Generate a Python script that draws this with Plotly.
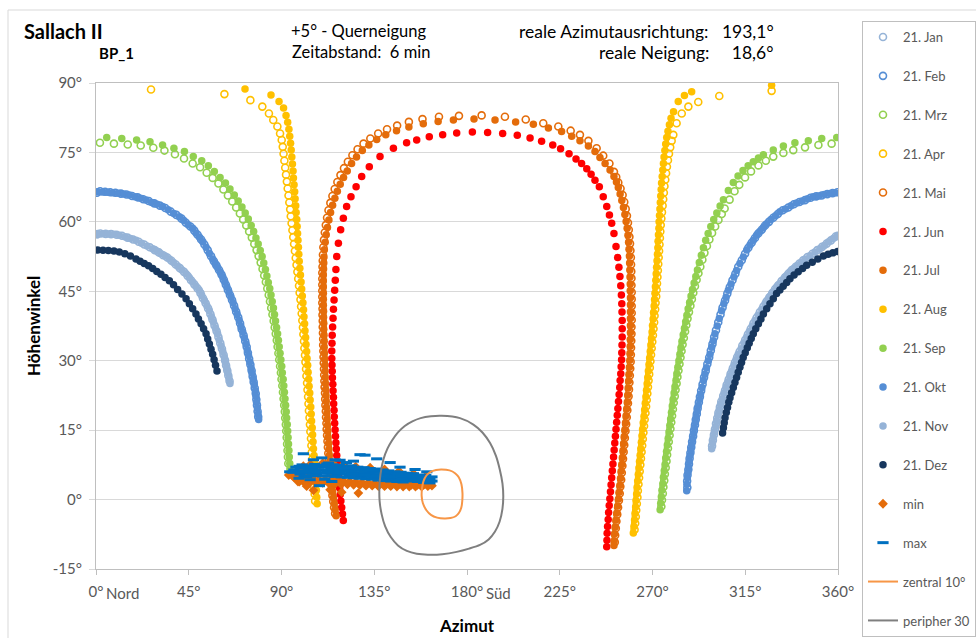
import plotly.graph_objects as go

# ---------------- data (azimuth °, altitude °) ----------------
jan_left = [(0.5,57.3),(2.1,57.5),(4.7,57.4),(7.3,57.35),(10.0,57.2),(12.6,57.0),(15.3,56.6),(18.0,56.2),(20.7,55.7),(23.4,55.1),(26.1,54.5),(28.5,53.9),(30.5,53.4),(32.6,52.8),(34.6,52.3),(36.6,51.6),(38.7,50.8),(40.7,50.0),(42.7,49.2),(44.5,48.3),(46.1,47.4),(47.7,46.5),(49.3,45.6),(50.7,44.6),(51.9,43.5),(53.2,42.4),(54.4,41.3),(55.5,40.1),(56.5,38.9),(57.5,37.6),(58.5,36.4),(59.4,35.1),(60.3,33.8),(61.1,32.6),(61.9,31.3),(62.6,30.1),(63.1,29.0),(63.7,27.9),(64.2,26.8),(64.8,25.6)]
jan_right = [(298.9,11.6),(299.3,12.8),(299.8,14.0),(300.3,15.2),(300.8,16.4),(301.4,17.6),(302.0,18.8),(302.7,20.0),(303.4,21.2),(304.3,22.4),(305.2,23.6),(306.0,24.8),(307.0,26.0),(307.9,27.2),(309.0,28.4),(310.0,29.6),(311.1,30.8),(312.3,32.0),(313.6,33.3),(315.0,34.5),(316.3,35.7),(317.7,36.9),(319.0,38.1),(320.5,39.3),(322.1,40.5),(323.8,41.7),(325.3,42.8),(326.7,43.7),(328.1,44.6),(329.5,45.5),(331.0,46.3),(332.6,47.2),(334.3,48.0),(335.9,48.8),(337.6,49.6),(339.5,50.3),(341.3,51.0),(343.1,51.7),(345.2,52.4),(347.6,53.1),(350.0,53.9),(352.3,54.6),(354.5,55.3),(356.6,56.0),(358.8,56.8)]

feb_left = [(0.5,66.3),(2.0,66.6),(4.4,66.5),(6.9,66.4),(9.4,66.3),(12.1,66.1),(14.8,65.9),(17.5,65.6),(20.2,65.3),(22.9,64.9),(25.6,64.5),(28.3,64.0),(31.0,63.5),(33.6,63.0),(36.3,62.2),(39.0,61.5),(41.5,60.7),(43.6,59.8),(45.8,59.0),(47.7,58.1),(49.3,57.2),(51.0,56.2),(52.6,55.1),(54.2,53.9),(55.8,52.6),(57.2,51.5),(58.4,50.6),(59.7,49.6),(60.9,48.6),(62.0,47.5),(63.0,46.4),(64.0,45.3),(65.0,44.2),(66.0,43.1),(67.0,41.9),(68.0,40.6),(69.0,39.4),(69.9,38.1),(70.7,36.8),(71.6,35.5),(72.4,34.2),(73.1,33.0),(73.7,31.7),(74.3,30.4),(74.9,29.2),(75.5,27.9),(76.0,26.6),(76.5,25.4),(77.0,24.1),(77.5,22.9),(77.8,21.6),(78.1,20.4),(78.4,19.1),(78.7,17.9)]
feb_right = [(286.9,2.6),(286.8,4.0),(287.0,5.3),(287.4,6.5),(287.7,7.7),(288.0,8.9),(288.4,10.1),(288.8,11.3),(289.2,12.5),(289.7,13.7),(290.1,14.9),(290.6,16.1),(291.0,17.3),(291.5,18.5),(291.9,19.7),(292.5,21.0),(293.0,22.2),(293.6,23.5),(294.3,24.9),(295.0,26.4),(295.8,27.8),(296.6,29.3),(297.5,30.7),(298.3,32.2),(299.1,33.6),(299.9,35.1),(300.8,36.6),(301.9,38.3),(303.0,40.0),(304.0,41.5),(305.2,43.0),(306.3,44.5),(307.5,45.9),(308.8,47.4),(310.2,48.8),(311.6,50.3),(313.3,51.7),(314.9,53.1),(316.5,54.4),(318.1,55.5),(319.7,56.5),(321.3,57.5),(323.0,58.3),(324.6,59.2),(326.5,60.0),(328.6,60.9),(330.8,61.7),(333.2,62.5),(335.9,63.1),(338.6,63.8),(341.3,64.3),(344.0,64.7),(346.7,65.2),(349.4,65.5),(352.1,65.7),(354.8,66.0),(357.4,66.2),(359.7,66.4)]

mrz_left = [(1.9,77.1),(8.7,76.9),(15.4,76.7),(21.7,76.5),(27.8,76.0),(33.2,75.4),(38.3,74.6),(42.7,73.7),(46.9,72.6),(50.5,71.8),(53.7,70.6),(56.6,69.5),(59.4,68.3),(61.8,67.0),(64.0,65.7),(66.1,64.4),(68.0,63.1),(69.8,61.8),(71.4,60.5),(72.9,59.2),(74.3,57.9),(75.6,56.6),(76.8,55.2),(77.9,53.9),(78.9,52.6),(79.9,51.2),(80.8,49.8),(81.6,48.4),(82.4,47.0),(83.1,45.6),(83.8,44.2),(84.4,42.8),(85.0,41.4),(85.6,40.0),(86.2,38.6),(86.7,37.2),(87.2,35.8),(87.7,34.4),(88.1,33.0),(88.5,31.6),(88.9,30.2),(89.3,28.8),(89.7,27.4),(90.0,26.0),(90.4,24.6),(90.7,23.2),(91.0,21.8),(91.3,20.4),(91.6,19.0),(91.8,17.6),(92.1,16.2),(92.3,14.8),(92.5,13.4),(92.7,12.0),(92.9,10.6),(93.1,9.2),(93.3,7.8)]
mrz_right = [(274.3,-1.5),(274.6,-0.1),(275.0,1.3),(275.3,2.7),(275.7,4.1),(276.0,5.5),(276.4,6.9),(276.8,8.3),(277.1,9.7),(277.5,11.1),(277.9,12.5),(278.3,13.9),(278.7,15.3),(279.1,16.7),(279.5,18.1),(279.9,19.5),(280.3,20.9),(280.8,22.3),(281.2,23.7),(281.7,25.1),(282.1,26.5),(282.6,27.9),(283.1,29.3),(283.6,30.7),(284.1,32.1),(284.6,33.5),(285.2,34.9),(285.8,36.3),(286.4,37.7),(287.0,39.1),(287.7,40.5),(288.4,41.9),(289.1,43.3),(289.8,44.7),(290.6,46.1),(291.4,47.5),(292.3,48.9),(293.2,50.3),(294.2,51.8),(295.2,53.3),(296.4,54.8),(297.6,56.2),(298.9,57.6),(300.4,59.0),(302.0,60.4),(303.6,61.7),(305.0,62.9),(307.4,64.8),(309.8,66.6),(312.1,68.0),(314.9,69.6),(317.8,70.9),(321.4,72.2),(325.0,73.2),(328.6,74.1),(333.5,74.9),(338.3,75.5),(344.0,76.1),(350.5,76.6),(356.9,76.9)]

apr_left = [(26.7,88.6),(62.3,87.6),(74.9,86.3),(80.7,84.9),(83.9,83.4),(86.0,82.0),(88.0,80.6),(89.3,79.1),(90.1,77.7),(90.6,76.2),(91.0,74.7),(91.4,73.2),(91.8,71.7),(92.2,70.2),(92.6,68.7),(93.0,67.2),(93.4,65.7),(93.8,64.2),(94.2,62.7),(94.5,61.2),(94.9,59.7),(95.3,58.2),(95.7,56.7),(96.1,55.2),(96.5,53.7),(96.9,52.2),(97.3,50.7),(97.7,49.2),(98.1,47.7),(98.5,46.2),(98.8,44.7),(99.2,43.2),(99.5,41.7),(99.8,40.2),(100.1,38.7),(100.4,37.2),(100.6,35.7),(100.9,34.2),(101.1,32.7),(101.4,31.2),(101.6,29.7),(101.9,28.2),(102.1,26.7),(102.4,25.2),(102.6,23.7),(102.9,22.2),(103.1,20.7),(103.3,19.2),(103.6,17.7),(103.8,16.2),(104.0,14.7),(104.3,13.2),(104.5,11.7),(104.7,10.2),(104.9,8.7),(105.2,7.2),(105.4,5.7),(105.6,4.2),(105.8,2.7),(106.1,1.2),(106.3,-0.3)]
apr_right = [(261.3,-6.5),(261.6,-5.1),(261.9,-3.7),(262.1,-2.3),(262.4,-0.9),(262.7,0.5),(262.9,1.9),(263.2,3.3),(263.5,4.7),(263.8,6.1),(264.1,7.5),(264.4,8.9),(264.7,10.3),(265.0,11.7),(265.3,13.1),(265.6,14.5),(265.9,15.9),(266.2,17.3),(266.6,18.7),(266.9,20.1),(267.2,21.5),(267.5,22.9),(267.8,24.3),(268.1,25.7),(268.4,27.1),(268.7,28.5),(269.0,29.9),(269.3,31.3),(269.6,32.7),(269.9,34.1),(270.2,35.5),(270.5,36.9),(270.8,38.3),(271.0,39.7),(271.3,41.1),(271.5,42.5),(271.8,43.9),(272.0,45.3),(272.2,46.7),(272.4,48.1),(272.6,49.5),(272.8,50.9),(273.0,52.3),(273.2,53.7),(273.4,55.1),(273.6,56.5),(273.8,57.9),(274.0,59.3),(274.3,60.7),(274.6,62.1),(274.9,63.5),(275.2,64.9),(275.5,66.3),(275.8,67.7),(276.2,69.1),(276.6,70.5),(277.0,71.9),(277.5,73.3),(278.0,74.7),(278.6,76.1),(279.3,77.5),(280.1,78.8),(281.7,81.3),(284.2,83.4),(287.4,84.9),(292.2,85.9),(302.4,87.2),(327.8,88.3)]

mai = [(116.0,-3.0),(115.5,-1.7),(115.1,-0.4),(114.7,0.9),(114.3,2.2),(114.0,3.5),(113.7,4.8),(113.4,6.1),(113.2,7.4),(112.9,8.7),(112.7,10.0),(112.5,11.3),(112.3,12.6),(112.1,13.9),(111.9,15.2),(111.8,16.5),(111.6,17.8),(111.5,19.1),(111.3,20.4),(111.2,21.7),(111.1,23.0),(110.9,24.3),(110.8,25.6),(110.7,26.9),(110.6,28.2),(110.5,29.5),(110.4,30.8),(110.3,32.1),(110.2,33.4),(110.2,34.7),(110.1,36.0),(110.0,37.3),(110.0,38.6),(109.9,39.9),(109.9,41.2),(109.8,42.5),(109.8,43.8),(109.8,45.1),(109.8,46.4),(109.8,47.7),(109.8,49.0),(109.9,50.3),(110.0,51.6),(110.1,52.9),(110.3,54.5),(110.6,56.1),(111.0,57.7),(111.5,59.3),(112.1,60.9),(112.8,62.5),(113.7,64.1),(114.7,65.6),(115.8,67.1),(117.1,68.6),(118.6,70.1),(120.3,71.6),(122.2,73.0),(124.4,74.4),(126.9,75.7),(129.8,76.9),(133.1,78.0),(136.9,79.1),(141.2,80.0),(146.1,80.8),(151.8,81.6),(158.4,82.2),(166.4,82.7),(176.1,82.9),(187.1,83.0),(198.4,82.7),(208.5,82.1),(217.0,81.3),(224.3,80.6),(230.3,79.7),(234.8,78.8),(238.9,77.5),(242.9,75.9),(246.1,74.3),(249.1,72.6),(251.3,70.8),(252.4,69.7),(253.4,68.5),(254.5,67.2),(255.5,65.8),(256.3,64.3),(257.0,62.8),(257.6,61.3),(258.1,59.8),(258.5,58.3),(258.8,56.8),(259.1,55.3),(259.3,53.8),(259.5,52.3),(259.6,50.8),(259.7,49.3),(259.8,47.8),(259.8,46.3),(259.9,44.8),(259.9,43.3),(259.9,41.8),(259.9,40.3),(259.9,38.8),(259.8,37.3),(259.8,35.8),(259.7,34.3),(259.6,32.8),(259.5,31.3),(259.4,29.8),(259.2,28.3),(259.0,26.8),(258.8,25.3),(258.6,23.8),(258.4,22.3),(258.1,20.8),(257.8,19.3),(257.5,17.8),(257.2,16.3),(256.9,14.8),(256.6,13.3),(256.3,11.8),(256.0,10.3),(255.7,8.8),(255.4,7.3),(255.1,5.8),(254.8,4.3),(254.4,2.8),(254.1,1.3),(253.7,-0.2),(253.3,-1.7),(252.9,-3.2),(252.5,-4.7),(252.2,-6.2),(251.9,-7.7),(251.7,-9.2)]

jun = [(120.0,-4.5),(119.6,-3.1),(119.2,-1.7),(118.8,-0.3),(118.5,1.1),(118.2,2.5),(117.9,3.9),(117.6,5.3),(117.3,6.7),(117.1,8.1),(116.8,9.5),(116.6,10.9),(116.4,12.3),(116.2,13.7),(116.0,15.1),(115.8,16.5),(115.6,17.9),(115.5,19.3),(115.3,20.7),(115.2,22.1),(115.0,23.5),(114.9,24.9),(114.7,26.3),(114.6,27.7),(114.5,29.1),(114.4,30.5),(114.4,32.1),(114.5,33.8),(114.6,35.5),(114.8,37.3),(115.0,39.2),(115.2,41.1),(115.5,43.1),(115.8,45.2),(116.1,47.4),(116.4,49.7),(116.8,52.5),(117.6,55.4),(118.7,58.3),(120.0,60.8),(121.6,63.3),(123.7,65.4),(126.2,67.6),(128.9,69.8),(132.6,71.9),(137.8,74.1),(144.3,75.9),(150.7,77.1),(155.6,77.7),(161.7,78.4),(168.2,78.8),(175.0,79.2),(182.6,79.4),(190.0,79.3),(197.3,79.1),(204.4,78.7),(210.6,78.1),(216.2,77.4),(221.6,76.6),(225.4,75.8),(229.5,74.7),(232.9,73.6),(235.6,72.6),(238.1,71.5),(240.2,70.3),(242.1,69.0),(244.2,67.6),(246.1,65.4),(247.8,63.3),(249.1,61.5),(250.2,59.7),(251.3,57.5),(252.3,54.7),(253.1,52.3),(253.7,50.2),(254.2,48.2),(254.6,46.2),(254.9,44.2),(255.1,42.3),(255.2,40.5),(255.3,38.7),(255.3,36.9),(255.3,35.1),(255.2,33.4),(255.1,31.7),(255.0,30.2),(254.8,28.7),(254.6,27.2),(254.3,25.7),(254.1,24.2),(253.8,22.7),(253.5,21.2),(253.2,19.7),(252.9,18.2),(252.6,16.7),(252.3,15.2),(252.0,13.7),(251.7,12.2),(251.4,10.7),(251.1,9.2),(250.8,7.7),(250.5,6.2),(250.2,4.7),(249.9,3.2),(249.6,1.7),(249.3,0.2),(249.0,-1.3),(248.7,-2.8),(248.5,-4.3),(248.2,-5.8),(248.0,-7.3),(247.9,-8.8),(247.8,-10.2)]

jul = [(116.5,-3.5),(116.0,-2.2),(115.6,-0.9),(115.2,0.4),(114.8,1.7),(114.5,3.0),(114.2,4.3),(113.9,5.6),(113.7,6.9),(113.4,8.2),(113.2,9.5),(113.0,10.8),(112.8,12.1),(112.6,13.4),(112.4,14.7),(112.3,16.0),(112.1,17.3),(112.0,18.6),(111.8,19.9),(111.7,21.2),(111.6,22.5),(111.4,23.8),(111.3,25.1),(111.2,26.4),(111.1,27.7),(111.0,29.0),(110.9,30.3),(110.8,31.6),(110.7,32.9),(110.7,34.2),(110.6,35.5),(110.5,36.8),(110.5,38.1),(110.4,39.4),(110.4,40.7),(110.3,42.0),(110.3,43.3),(110.3,44.6),(110.3,45.9),(110.3,47.2),(110.3,48.5),(110.4,49.8),(110.5,51.1),(110.6,52.4),(110.8,54.0),(111.2,55.6),(111.7,57.2),(112.3,58.8),(113.0,60.4),(113.8,62.0),(114.8,63.6),(115.9,65.1),(117.1,66.6),(118.5,68.1),(120.1,69.6),(121.9,71.0),(124.0,72.6),(126.4,74.0),(129.2,75.4),(132.4,76.6),(136.2,77.8),(140.6,78.8),(145.8,79.7),(151.8,80.5),(158.8,81.2),(166.0,81.7),(173.4,82.0),(183.4,82.2),(193.6,82.0),(203.6,81.6),(212.2,81.1),(219.5,80.3),(225.9,79.5),(230.8,78.5),(234.8,77.5),(238.9,76.4),(242.1,75.2),(244.5,73.9),(247.0,72.6),(249.4,71.2),(251.3,69.8),(252.5,68.6),(253.4,67.4),(254.3,66.0),(255.1,64.6),(255.9,63.1),(256.6,61.6),(257.2,60.1),(257.7,58.6),(258.1,57.1),(258.4,55.6),(258.6,54.1),(258.8,52.6),(258.9,51.1),(259.0,49.6),(259.1,48.1),(259.2,46.6),(259.2,45.1),(259.3,43.6),(259.3,42.1),(259.3,40.6),(259.3,39.1),(259.3,37.6),(259.3,36.1),(259.2,34.6),(259.2,33.1),(259.1,31.6),(259.0,30.1),(258.8,28.6),(258.6,27.1),(258.4,25.6),(258.2,24.1),(258.0,22.6),(257.8,21.1),(257.5,19.6),(257.2,18.1),(256.9,16.6),(256.6,15.1),(256.3,13.6),(256.0,12.1),(255.7,10.6),(255.4,9.1),(255.1,7.6),(254.8,6.1),(254.5,4.6),(254.2,3.1),(253.8,1.6),(253.5,0.1),(253.1,-1.4),(252.7,-2.9),(252.3,-4.4),(251.9,-5.9),(251.6,-7.4),(251.4,-8.9),(251.3,-9.9)]

aug_left = [(72.3,88.7),(84.9,87.4),(88.8,86.0),(91.0,84.6),(92.2,83.0),(93.0,81.5),(93.6,80.0),(94.0,78.5),(94.4,77.0),(94.7,75.5),(95.0,74.0),(95.3,72.5),(95.6,71.0),(95.8,69.5),(96.1,68.0),(96.4,66.5),(96.6,65.0),(96.9,63.5),(97.1,62.0),(97.4,60.5),(97.6,59.0),(97.8,57.5),(98.0,56.0),(98.2,54.5),(98.4,53.0),(98.6,51.5),(98.9,50.0),(99.2,48.5),(99.5,47.0),(99.8,45.5),(100.1,44.0),(100.4,42.5),(100.7,41.0),(100.9,39.5),(101.2,38.0),(101.4,36.5),(101.7,35.0),(101.9,33.5),(102.2,32.0),(102.4,30.5),(102.7,29.0),(102.9,27.5),(103.2,26.0),(103.4,24.5),(103.7,23.0),(103.9,21.5),(104.2,20.0),(104.4,18.5),(104.6,17.0),(104.9,15.5),(105.1,14.0),(105.3,12.5),(105.5,11.0),(105.8,9.5),(106.0,8.0),(106.2,6.5),(106.4,5.0),(106.7,3.5),(106.9,2.0),(107.1,0.5),(107.3,-0.9)]
aug_right = [(260.7,-7.2),(261.0,-5.8),(261.3,-4.4),(261.5,-3.0),(261.8,-1.6),(262.0,-0.2),(262.3,1.2),(262.5,2.6),(262.8,4.0),(263.1,5.4),(263.4,6.8),(263.7,8.2),(264.0,9.6),(264.3,11.0),(264.6,12.4),(264.9,13.8),(265.2,15.2),(265.5,16.6),(265.9,18.0),(266.2,19.4),(266.5,20.8),(266.8,22.2),(267.1,23.6),(267.4,25.0),(267.7,26.4),(268.0,27.8),(268.3,29.2),(268.6,30.6),(268.9,32.0),(269.2,33.4),(269.5,34.8),(269.8,36.2),(270.0,37.6),(270.3,39.0),(270.5,40.4),(270.8,41.8),(271.0,43.2),(271.2,44.6),(271.4,46.0),(271.6,47.4),(271.8,48.8),(272.0,50.2),(272.2,51.6),(272.4,53.0),(272.6,54.4),(272.7,55.8),(272.9,57.2),(273.1,58.6),(273.2,60.0),(273.4,61.4),(273.6,62.8),(273.8,64.2),(274.0,65.6),(274.2,67.0),(274.4,68.4),(274.7,69.8),(275.0,71.2),(275.3,72.6),(275.6,74.0),(276.0,75.4),(276.4,76.8),(276.9,78.2),(277.5,79.6),(278.2,81.0),(279.0,82.4),(280.2,83.8),(282.5,86.0),(285.5,87.3),(289.0,88.1),(327.8,89.5)]

sep_left = [(5.2,78.2),(12.5,78.0),(19.7,77.7),(26.2,77.3),(32.3,76.6),(37.8,75.9),(42.9,75.2),(47.2,74.1),(51.3,73.2),(54.5,72.1),(57.4,70.9),(60.2,69.6),(62.8,68.4),(65.0,67.1),(67.1,65.8),(69.0,64.5),(70.8,63.2),(72.4,61.9),(73.9,60.6),(75.3,59.2),(76.5,57.9),(77.6,56.5),(78.7,55.2),(79.7,53.8),(80.6,52.5),(81.4,51.1),(82.2,49.7),(82.9,48.3),(83.6,46.9),(84.3,45.6),(84.9,44.2),(85.5,42.8),(86.1,41.4),(86.6,40.0),(87.1,38.6),(87.6,37.2),(88.1,35.8),(88.5,34.4),(88.9,33.0),(89.3,31.6),(89.7,30.2),(90.1,28.8),(90.4,27.4),(90.8,26.0),(91.1,24.6),(91.4,23.2),(91.7,21.8),(92.0,20.4),(92.3,19.0),(92.5,17.6),(92.8,16.2),(93.0,14.8),(93.2,13.4),(93.4,12.0),(93.6,10.6),(93.8,9.2),(94.0,7.8),(94.1,6.6)]
sep_right = [(273.7,-2.2),(274.0,-0.8),(274.3,0.6),(274.6,2.0),(275.0,3.4),(275.3,4.8),(275.7,6.2),(276.1,7.6),(276.4,9.0),(276.8,10.4),(277.2,11.8),(277.6,13.2),(278.0,14.6),(278.4,16.0),(278.8,17.4),(279.2,18.8),(279.6,20.2),(280.0,21.6),(280.5,23.0),(280.9,24.4),(281.4,25.8),(281.8,27.2),(282.3,28.6),(282.8,30.0),(283.3,31.4),(283.8,32.8),(284.3,34.2),(284.9,35.6),(285.5,37.0),(286.1,38.4),(286.7,39.8),(287.3,41.2),(288.0,42.6),(288.7,44.0),(289.4,45.4),(290.2,46.8),(291.0,48.2),(291.8,49.6),(292.7,51.2),(293.7,52.8),(294.7,54.4),(295.8,56.0),(297.0,57.5),(298.3,59.0),(299.7,60.5),(301.2,61.9),(302.8,63.4),(304.4,64.8),(306.8,66.8),(309.2,68.5),(311.5,69.9),(313.9,71.1),(316.4,72.1),(318.9,73.0),(321.4,73.8),(323.8,74.5),(328.6,75.5),(333.5,76.4),(339.1,77.1),(345.6,77.5),(352.1,78.0),(359.4,78.2)]

okt_left = [(0.8,66.5),(3.2,66.45),(5.7,66.4),(8.1,66.3),(10.8,66.2),(13.5,66.0),(16.2,65.8),(18.9,65.4),(21.6,65.1),(24.3,64.7),(27.0,64.2),(29.6,63.8),(32.3,63.3),(35.0,62.6),(37.7,61.8),(40.4,61.1),(42.6,60.3),(44.7,59.4),(46.9,58.6),(48.5,57.6),(50.2,56.7),(51.8,55.7),(53.4,54.5),(55.0,53.2),(56.6,52.0),(57.8,51.0),(59.1,50.1),(60.3,49.1),(61.5,48.1),(62.5,47.0),(63.5,45.9),(64.5,44.8),(65.5,43.7),(66.5,42.5),(67.5,41.2),(68.5,40.0),(69.5,38.7),(70.3,37.4),(71.2,36.2),(72.0,34.9),(72.8,33.6),(73.4,32.3),(74.0,31.1),(74.6,29.8),(75.2,28.5),(75.7,27.3),(76.3,26.0),(76.8,24.8),(77.3,23.5),(77.6,22.3),(77.9,21.0),(78.3,19.8),(78.6,18.5),(78.9,17.3)]
okt_right = [(286.6,1.9),(286.7,3.3),(286.9,4.7),(287.2,5.9),(287.5,7.1),(287.8,8.3),(288.2,9.5),(288.6,10.7),(289.0,11.9),(289.4,13.1),(289.9,14.3),(290.3,15.5),(290.8,16.7),(291.2,17.9),(291.7,19.1),(292.2,20.3),(292.8,21.6),(293.3,22.8),(294.0,24.2),(294.7,25.7),(295.4,27.1),(296.2,28.5),(297.1,30.0),(297.9,31.4),(298.7,32.9),(299.5,34.3),(300.3,35.8),(301.4,37.5),(302.4,39.1),(303.5,40.8),(304.6,42.3),(305.7,43.7),(306.8,45.2),(308.1,46.6),(309.5,48.1),(310.8,49.5),(312.4,51.0),(314.1,52.4),(315.7,53.9),(317.3,55.0),(318.9,56.0),(320.5,57.1),(322.1,57.9),(323.8,58.8),(325.4,59.6),(327.5,60.5),(329.7,61.3),(331.8,62.2),(334.5,62.8),(337.2,63.5),(339.9,64.1),(342.6,64.5),(345.3,65.0),(348.0,65.4),(350.7,65.6),(353.4,65.9),(356.1,66.1),(358.6,66.3)]

nov_left = [(0.8,57.5),(3.4,57.45),(6.0,57.4),(8.7,57.3),(11.3,57.1),(14.0,56.8),(16.7,56.4),(19.4,56.0),(22.1,55.4),(24.8,54.8),(27.5,54.2),(29.5,53.7),(31.5,53.1),(33.6,52.6),(35.6,52.0),(37.6,51.2),(39.7,50.4),(41.7,49.6),(43.7,48.8),(45.3,47.9),(46.9,47.0),(48.5,46.1),(50.1,45.2),(51.3,44.1),(52.6,43.0),(53.8,41.9),(55.0,40.8),(56.0,39.5),(57.0,38.3),(58.0,37.0),(59.0,35.8),(59.8,34.5),(60.7,33.2),(61.5,32.0),(62.3,30.7),(62.8,29.6),(63.4,28.5),(63.9,27.4),(64.5,26.2),(65.0,25.1)]
nov_right = [(298.7,11.0),(299.1,12.2),(299.5,13.4),(300.0,14.6),(300.6,15.8),(301.1,17.0),(301.7,18.2),(302.4,19.4),(303.0,20.6),(303.9,21.8),(304.7,23.0),(305.6,24.2),(306.5,25.4),(307.5,26.6),(308.4,27.8),(309.5,29.0),(310.5,30.2),(311.6,31.4),(313.0,32.6),(314.3,33.9),(315.7,35.1),(317.0,36.3),(318.4,37.5),(319.7,38.7),(321.3,39.9),(323.0,41.1),(324.6,42.3),(326.0,43.2),(327.4,44.1),(328.8,45.0),(330.2,45.9),(331.8,46.7),(333.5,47.6),(335.1,48.4),(336.7,49.2),(338.5,49.9),(340.4,50.6),(342.2,51.3),(344.0,52.0),(346.4,52.7),(348.8,53.5),(351.2,54.2),(353.4,54.9),(355.5,55.7),(357.7,56.4),(359.8,57.1)]

dez_left = [(0.8,53.9),(3.4,53.85),(6.0,53.8),(8.7,53.7),(11.3,53.5),(14.0,53.1),(16.7,52.6),(19.4,52.0),(21.4,51.5),(23.4,51.0),(25.5,50.5),(27.5,49.9),(29.5,49.3),(31.5,48.7),(33.5,48.0),(35.6,47.3),(37.6,46.4),(39.6,45.4),(41.7,44.4),(43.7,43.4),(45.3,42.3),(46.9,41.2),(48.5,40.1),(49.7,39.0),(51.0,38.0),(52.2,36.9),(53.4,35.8),(54.2,34.7),(55.0,33.6),(55.8,32.5),(56.6,31.4),(57.3,30.2),(58.0,29.0),(58.7,27.8)]
dez_right = [(304.0,14.4),(304.4,15.5),(304.8,16.6),(305.2,17.7),(305.8,18.8),(306.4,19.9),(307.0,21.0),(307.6,22.0),(308.4,23.1),(309.2,24.2),(310.0,25.3),(310.8,26.4),(311.6,27.5),(312.4,28.6),(313.2,29.6),(314.0,30.7),(315.0,31.7),(316.0,32.8),(316.9,33.8),(317.9,34.8),(318.9,35.8),(320.1,36.9),(321.4,38.0),(322.6,39.0),(323.8,40.1),(325.4,41.2),(327.0,42.3),(328.6,43.4),(330.2,44.5),(331.8,45.3),(333.4,46.1),(335.1,46.9),(336.7,47.7),(338.7,48.5),(340.7,49.2),(342.8,49.9),(344.8,50.6),(347.5,51.3),(350.2,52.0),(352.9,52.6),(355.2,53.0),(357.5,53.3),(359.8,53.6)]

min_pts = [(96,4.9),(99,4.6),(102,4.5),(105,4.6),(108,4.4),(111,4.3),(114,4.2),(117,4.1),(120,4.0),(123,3.9),(126,3.8),(129,3.7),(132,3.6),(135,3.5),(138,3.5),(141,3.4),(144,3.4),(147,3.3),(150,3.3),(153,3.2),(156,3.2),(159,3.2),(162,3.3),
           (98,3.9),(101,3.7),(104,3.8),(107,3.6),(110,3.6),(113,3.5),(116,3.4),(119,3.3),(122,3.3),(125,3.2),(128,3.1),(131,3.0),(134,3.0),(137,2.9),(140,2.9),(143,2.9),(146,2.8),(149,2.8),(152,2.8),(155,2.8),(158,2.8),(161,2.9),(163,3.0),
           (100,6.5),(104,7.6),(110,7.9),(115,7.8),(120,7.5),(126,7.1),(133,6.9),(140,6.5),(147,6.1),(154,5.6),(160,5.0),(107,6.6),(118,6.5),(130,6.0),(145,5.2),
           (95.8,4.9),(98.7,3.9),(102.2,2.9),(105.5,2.0),(113.6,2.1),(119.2,1.6),(127.3,1.4),(100.6,7.2),(103.9,5.4),(119.2,3.9),(93.5,5.3),(97.0,5.6)]

max_pts = [(97,7.0),(100,7.5),(103,7.3),(106,7.6),(109,7.4),(112,7.7),(115,7.5),(118,7.4),(121,7.2),(124,7.3),(127,7.0),(130,6.9),(133,6.7),(136,6.6),(139,6.4),(142,6.2),(145,6.0),(148,5.9),(151,5.7),(154,5.6),(157,5.3),(160,5.2),(163,4.9),
           (96,6.4),(99,6.8),(102,6.9),(105,6.9),(108,7.0),(111,7.0),(114,6.9),(117,6.8),(120,6.7),(123,6.6),(126,6.4),(129,6.3),(132,6.2),(135,6.0),(138,5.9),(141,5.7),(144,5.5),(147,5.4),(150,5.2),(153,5.0),(156,4.8),(159,4.7),(162,4.5),
           (97,6.0),(100,6.2),(103,6.3),(106,6.3),(109,6.4),(112,6.3),(115,6.3),(118,6.2),(121,6.1),(124,6.0),(127,5.8),(130,5.7),(133,5.6),(136,5.4),(139,5.3),(142,5.1),(145,5.0),(148,4.8),(151,4.7),(154,4.5),(157,4.3),(160,4.2),(163,4.0),
           (99,5.5),(102,5.7),(105,5.7),(108,5.8),(111,5.7),(114,5.7),(117,5.6),(120,5.5),(123,5.4),(126,5.2),(129,5.1),(132,5.0),(135,4.9),(138,4.7),(141,4.6),(144,4.4),(147,4.3),(150,4.2),(153,4.0),(156,3.9),(159,3.7),(162,3.6),
           (101,5.0),(104,5.1),(107,5.2),(110,5.1),(113,5.1),(116,5.0),(119,4.9),(122,4.8),(125,4.7),(128,4.6),(131,4.5),(134,4.4),(137,4.2),(140,4.1),(143,4.0),(146,3.9),(149,3.8),
           (98.5,7.2),(104.5,7.1),(110.5,7.3),(116.5,7.2),(122.5,6.9),(128.5,6.6),(134.5,6.3),(140.5,5.9),(146.5,5.6),(152.5,5.3),(158.5,5.0),
           (100.5,5.9),(106.5,6.0),(112.5,6.0),(118.5,5.8),(124.5,5.6),(130.5,5.4),(136.5,5.1),(142.5,4.8),(148.5,4.5),(154.5,4.2),(160.5,3.9),
           (100.6,9.9),(105.5,8.6),(109.5,9.0),(112.8,7.9),(116.0,8.6),(118.4,8.5),(124.9,8.3),(128.1,9.7),(130.5,9.6),(136.2,8.8),(142.7,8.0),(147.5,7.0),(154.8,6.5),(160.5,6.0),(121.5,8.0),
           (94.0,6.0),(95.5,5.9),(102.2,4.9),(103.9,4.3),(108.4,3.0),(114.4,3.9),(98.5,4.6),(111.0,4.4)]

zentral = [(167.7,6.5),(171.5,6.3),(174.2,5.7),(176.0,4.8),(177.3,3.3),(177.8,1.4),(177.7,-0.3),(177.3,-1.6),(176.2,-2.8),(174.5,-3.6),(172.0,-4.0),(169.0,-4.1),(165.5,-3.9),(162.5,-3.3),(160.3,-2.3),(158.6,-0.8),(158.0,0.8),(158.2,2.5),(158.9,4.0),(160.3,5.2),(162.3,6.0),(165.0,6.4),(167.7,6.5)]
peripher = [(167.7,18.1),(176.6,17.6),(183.1,16.2),(187.5,14.5),(191.2,12.2),(194.0,9.5),(195.9,6.5),(197.2,3.5),(197.6,0.7),(197.2,-2.0),(195.8,-4.8),(193.6,-6.9),(190.5,-8.6),(186.3,-9.8),(181.0,-10.6),(175.0,-11.3),(168.0,-11.8),(161.0,-11.9),(155.6,-11.7),(150.8,-11.1),(146.5,-9.9),(143.0,-8.1),(140.3,-5.8),(138.6,-3.2),(137.6,-0.3),(137.5,2.5),(138.0,5.4),(139.4,8.6),(141.4,11.0),(143.7,12.8),(146.5,14.5),(149.8,15.9),(153.5,16.9),(157.5,17.6),(162.5,18.0),(167.7,18.1)]

x_tickvals = [0, 45, 90, 135, 180, 225, 270, 315, 360]
x_ticktext = ["0°", "45°", "90°", "135°", "180°", "225°", "270°", "315°", "360°"]
y_tickvals = [-15, 0, 15, 30, 45, 60, 75, 90]
y_ticktext = ["-15°", "0°", "15°", "30°", "45°", "60°", "75°", "90°"]

# ---------------- figure ----------------
FONT = "Lato, 'Open Sans', sans-serif"
GREY_TXT = "#595959"

def unzip(pts):
    return [p[0] for p in pts], [p[1] for p in pts]

series = [
    ("21. Jan", jan_left + jan_right, "#95b3d7", "circle-open"),
    ("21. Feb", feb_left + feb_right, "#558ed5", "circle-open"),
    ("21. Mrz", mrz_left + mrz_right, "#92d050", "circle-open"),
    ("21. Apr", apr_left + apr_right, "#ffc000", "circle-open"),
    ("21. Mai", mai, "#e46c0a", "circle-open"),
    ("21. Jun", jun, "#ff0000", "circle"),
    ("21. Jul", jul, "#e46c0a", "circle"),
    ("21. Aug", aug_left + aug_right, "#ffc000", "circle"),
    ("21. Sep", sep_left + sep_right, "#92d050", "circle"),
    ("21. Okt", okt_left + okt_right, "#558ed5", "circle"),
    ("21. Nov", nov_left + nov_right, "#95b3d7", "circle"),
    ("21. Dez", dez_left + dez_right, "#17375e", "circle"),
]

fig = go.Figure()
for name, pts, color, symbol in series:
    xs, ys = unzip(pts)
    is_open = symbol.endswith("open")
    fig.add_trace(go.Scatter(
        x=xs, y=ys, mode="markers", name=name, legendgroup=name,
        marker=dict(symbol=symbol, size=7 if is_open else 7.5, color=color,
                    line=dict(width=1.6 if is_open else 0, color=color)),
        hoverinfo="skip"))

xs, ys = unzip(min_pts)
fig.add_trace(go.Scatter(x=xs, y=ys, mode="markers", name="min", legendgroup="min",
                         marker=dict(symbol="diamond", size=7.5, color="#e46c0a", line=dict(width=0)),
                         hoverinfo="skip"))
xs, ys = unzip(max_pts)
fig.add_trace(go.Scatter(x=xs, y=ys, mode="markers", name="max", legendgroup="max",
                         marker=dict(symbol="line-ew", size=8, color="#0070c0",
                                     line=dict(width=3, color="#0070c0")),
                         hoverinfo="skip"))
xs, ys = unzip(zentral)
fig.add_trace(go.Scatter(x=xs, y=ys, mode="lines", name="zentral 10°", legendgroup="zentral",
                         line=dict(color="#f79646", width=2, shape="spline", smoothing=0.8),
                         hoverinfo="skip"))
xs, ys = unzip(peripher)
fig.add_trace(go.Scatter(x=xs, y=ys, mode="lines", name="peripher 30", legendgroup="peripher",
                         line=dict(color="#7f7f7f", width=2, shape="spline", smoothing=0.8),
                         hoverinfo="skip"))

# pixel -> paper helpers (plot area: x 96..838, y 83..569)
L, R, T, B = 96, 838, 83, 569

def px(xp):
    return (xp - L) / (R - L)

def py(yp):
    return (B - yp) / (B - T)

ann = [
    dict(text="<b>Sallach II</b>", x=px(22), y=py(31), xanchor="left", yanchor="middle",
         font=dict(size=20, color="#000000")),
    dict(text="<b>BP_1</b>", x=px(97), y=py(53), xanchor="left", yanchor="middle",
         font=dict(size=15, color="#000000")),
    dict(text="+5° - Querneigung", x=px(358), y=py(31), xanchor="center", yanchor="middle",
         font=dict(size=16.5, color="#000000")),
    dict(text="Zeitabstand:\u00a0 6 min", x=px(361), y=py(52), xanchor="center", yanchor="middle",
         font=dict(size=16.5, color="#000000")),
    dict(text="reale Azimutausrichtung:\u00a0\u00a0 193,1°", x=px(776), y=py(31), xanchor="right", yanchor="middle",
         font=dict(size=17.5, color="#000000")),
    dict(text="reale Neigung:\u00a0\u00a0\u00a0\u00a0 18,6°", x=px(776), y=py(52), xanchor="right", yanchor="middle",
         font=dict(size=17.5, color="#000000")),
    dict(text="<b>Höhenwinkel</b>", x=px(33), y=py(326), xanchor="center", yanchor="middle",
         textangle=-90, font=dict(size=17, color="#000000")),
    dict(text="<b>Azimut</b>", x=px(467), y=py(625), xanchor="center", yanchor="middle",
         font=dict(size=17, color="#000000")),
    dict(text="Nord", x=px(104), y=py(593), xanchor="left", yanchor="middle",
         font=dict(size=15, color=GREY_TXT)),
    dict(text="Süd", x=px(484), y=py(593), xanchor="left", yanchor="middle",
         font=dict(size=15, color=GREY_TXT)),
]
for a in ann:
    a.update(xref="paper", yref="paper", showarrow=False)

fig.update_layout(
    width=976, height=638,
    margin=dict(l=L, r=976 - R, t=T, b=638 - B, autoexpand=False),
    paper_bgcolor="white", plot_bgcolor="white",
    font=dict(family=FONT, color=GREY_TXT, size=15),
    hovermode=False,
    annotations=ann,
    shapes=[dict(type="rect", xref="paper", yref="paper", x0=px(8), x1=px(1010), y0=py(700), y1=py(10),
                 line=dict(color="#d9d9d9", width=1), fillcolor="rgba(0,0,0,0)", layer="below")],
    legend=dict(x=px(862), y=py(21), xanchor="left", yanchor="top",
                bordercolor="#bfbfbf", borderwidth=1, bgcolor="white",
                font=dict(family=FONT, size=13, color=GREY_TXT),
                tracegroupgap=19, itemwidth=30, maxheight=1400),
    xaxis=dict(range=[0, 360], tickvals=x_tickvals, ticktext=x_ticktext,
               showgrid=False, zeroline=False, showline=True, linecolor="#bfbfbf", linewidth=1,
               mirror=True, ticks="outside", ticklen=5, tickcolor="#bfbfbf",
               tickfont=dict(size=15, color=GREY_TXT), ticklabelstandoff=4, fixedrange=True),
    yaxis=dict(range=[-15, 90], tickvals=y_tickvals, ticktext=y_ticktext,
               showgrid=True, gridcolor="#d9d9d9", gridwidth=1, zeroline=False,
               showline=True, linecolor="#bfbfbf", linewidth=1, mirror=True,
               ticks="outside", ticklen=6, tickcolor="#d9d9d9",
               tickfont=dict(size=15, color=GREY_TXT), ticklabelstandoff=4, fixedrange=True),
)

fig.write_html("out.html")
